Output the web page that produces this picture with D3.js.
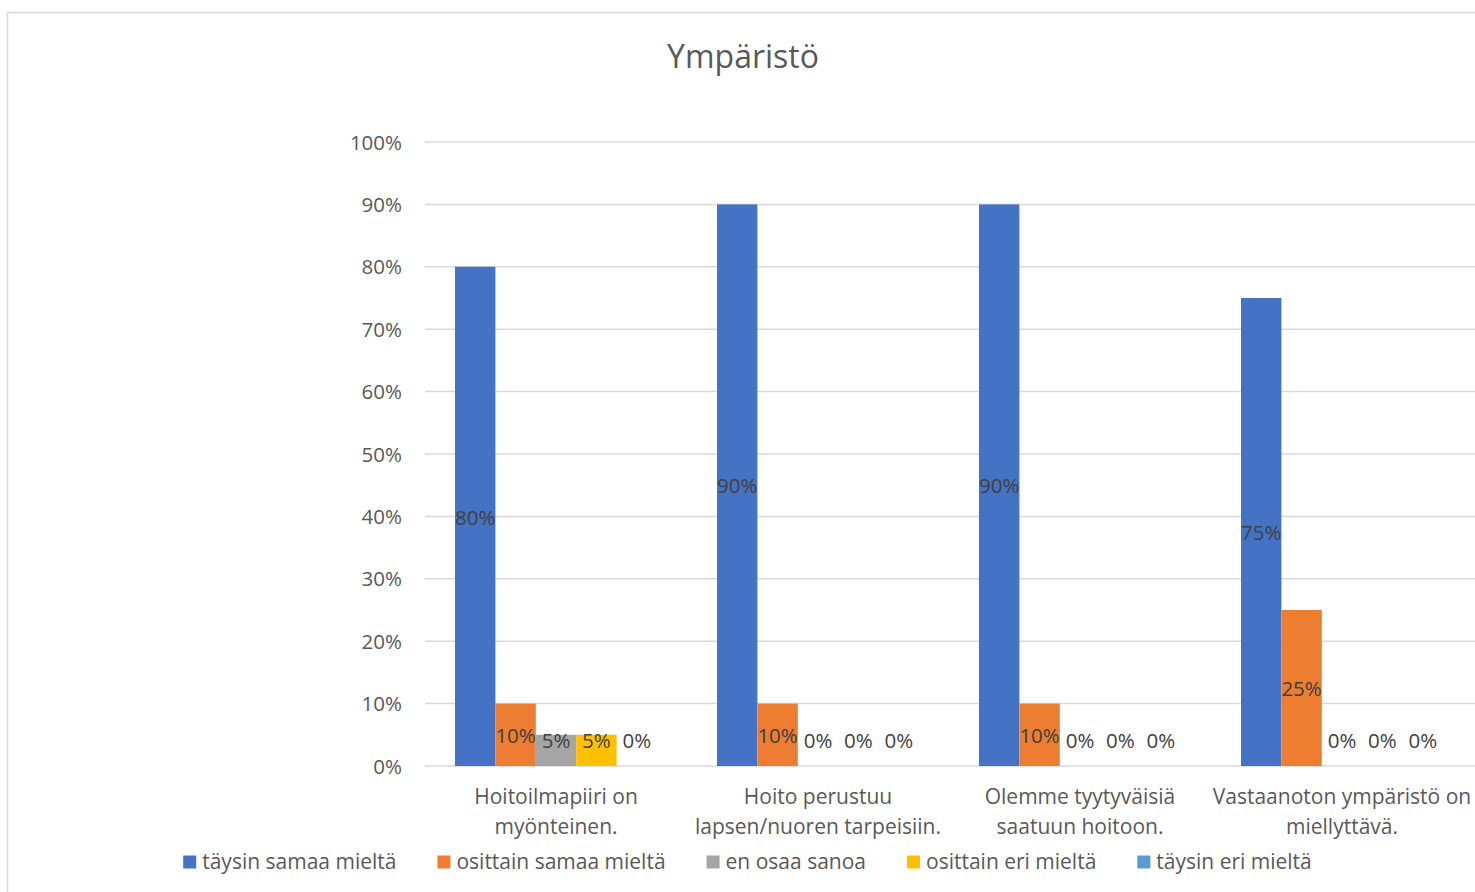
<!DOCTYPE html>
<html>
<head>
<meta charset="utf-8">
<script src="https://cdn.jsdelivr.net/npm/d3@7"></script>
<style>
  html, body { margin: 0; padding: 0; background: #fff; }
  svg { display: block; font-family: "Open Sans", Lato, sans-serif; }
</style>
</head>
<body>
<svg id="chart" width="1475" height="892"></svg>
<script>
// Survey results: share of answers per statement
const title = "Ympäristö";
const categories = [
  "Hoitoilmapiiri on\nmyönteinen.",
  "Hoito perustuu\nlapsen/nuoren tarpeisiin.",
  "Olemme tyytyväisiä\nsaatuun hoitoon.",
  "Vastaanoton ympäristö on\nmiellyttävä."
];
const seriesNames = [
  "täysin samaa mieltä",
  "osittain samaa mieltä",
  "en osaa sanoa",
  "osittain eri mieltä",
  "täysin eri mieltä"
];
const seriesColors = ["#4472C4", "#ED7D31", "#A5A5A5", "#FFC000", "#5B9BD5"];
// values per series, in category order (percent)
const taysinSamaa   = [80, 90, 90, 75];
const osittainSamaa = [10, 10, 10, 25];
const enOsaa        = [5, 0, 0, 0];
const osittainEri   = [5, 0, 0, 0];
const taysinEri     = [0, 0, 0, 0];
const seriesValues = [taysinSamaa, osittainSamaa, enOsaa, osittainEri, taysinEri];
const yTicks = [0, 10, 20, 30, 40, 50, 60, 70, 80, 90, 100];

const svg = d3.select("#chart");
const W = 1475, H = 892;
const plot = { left: 425, right: 1473, top: 142, bottom: 766 };
const textColor = "#595959";

// outer chart frame
svg.append("rect")
  .attr("x", 7.5).attr("y", 12.5)
  .attr("width", W + 20).attr("height", H + 20)
  .attr("fill", "#fff").attr("stroke", "#d9d9d9").attr("stroke-width", 1.5);

// title
svg.append("text")
  .attr("x", 743).attr("y", 68)
  .attr("text-anchor", "middle")
  .attr("fill", textColor)
  .attr("font-size", 32)
  .text(title);

const x0 = d3.scaleBand()
  .domain(d3.range(categories.length))
  .range([plot.left, plot.right])
  .padding(0);
const groupPad = 30;
const step = x0.bandwidth();
const x1 = d3.scaleBand()
  .domain(d3.range(seriesNames.length))
  .range([groupPad, step - groupPad])
  .padding(0);

const y = d3.scaleLinear().domain([0, 100]).range([plot.bottom, plot.top]);

// gridlines
svg.append("g")
  .selectAll("line")
  .data(yTicks)
  .join("line")
  .attr("x1", plot.left).attr("x2", W)
  .attr("y1", d => y(d)).attr("y2", d => y(d))
  .attr("stroke", "#d9d9d9").attr("stroke-width", 1.5);

// y axis labels
const yAxis = d3.axisLeft(y).tickValues(yTicks).tickFormat(d => d + "%").tickSize(0).tickPadding(0);
const gy = svg.append("g").attr("transform", `translate(${plot.left - 23},0)`).call(yAxis);
gy.select(".domain").remove();
gy.selectAll("text")
  .attr("fill", textColor)
  .attr("font-size", 20.5)
  .attr("font-family", "'Open Sans', Lato, sans-serif")
  .attr("dy", "0.35em");

// bars
const groups = svg.append("g")
  .selectAll("g")
  .data(categories.map((c, i) => i))
  .join("g")
  .attr("transform", i => `translate(${x0(i)},0)`);

const cells = groups.selectAll("g.cell")
  .data(ci => seriesValues.map((vals, si) => ({ si, v: vals[ci] })))
  .join("g").attr("class", "cell");

cells.append("rect")
  .attr("x", d => x1(d.si))
  .attr("width", x1.bandwidth())
  .attr("y", d => y(d.v))
  .attr("height", d => y(0) - y(d.v))
  .attr("fill", d => seriesColors[d.si]);

// centered value labels; small bars keep the label just above the baseline
cells.append("text")
  .attr("x", d => x1(d.si) + x1.bandwidth() / 2)
  .attr("y", d => Math.min((y(d.v) + y(0)) / 2 + 1, y(0) - 25))
  .attr("dy", "0.35em")
  .attr("text-anchor", "middle")
  .attr("fill", "#404040")
  .attr("font-size", 20.5)
  .text(d => d.v + "%");

// category labels
const catLabels = svg.append("g")
  .selectAll("text")
  .data(categories)
  .join("text")
  .attr("x", (d, i) => x0(i) + step / 2)
  .attr("y", 804)
  .attr("text-anchor", "middle")
  .attr("fill", textColor)
  .attr("font-size", 21);
catLabels.each(function (d) {
  const t = d3.select(this);
  d.split("\n").forEach((line, k) => {
    t.append("tspan")
      .attr("x", t.attr("x"))
      .attr("dy", k === 0 ? 0 : 30)
      .text(line);
  });
});

// legend
const legend = svg.append("g");
const items = legend.selectAll("g")
  .data(seriesNames)
  .join("g");
items.append("rect")
  .attr("width", 13).attr("height", 13)
  .attr("y", -6.5)
  .attr("fill", (d, i) => seriesColors[i]);
items.append("text")
  .attr("x", 19)
  .attr("dy", "0.35em")
  .attr("fill", textColor)
  .attr("font-size", 21)
  .text(d => d);
let cursor = 0;
const gap = 41;
items.each(function () {
  const g = d3.select(this);
  g.attr("transform", `translate(${cursor},0)`);
  cursor += 19 + g.select("text").node().getComputedTextLength() + gap;
});
const legendWidth = cursor - gap;
legend.attr("transform", `translate(${747.5 - legendWidth / 2},862)`);
</script>
</body>
</html>
